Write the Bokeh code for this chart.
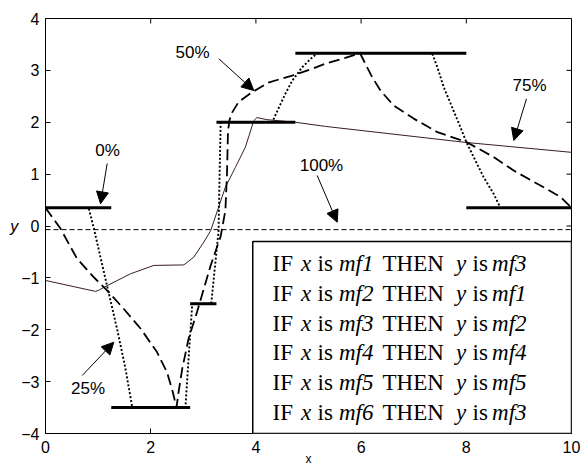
import math
from bokeh.plotting import figure
from bokeh.models import (Range1d, FixedTicker, Arrow, NormalHead,
                          Label, BoxAnnotation, ColumnDataSource)
from bokeh.core.properties import value
from bokeh.embed import file_html
from bokeh.resources import INLINE

# ---------------- data ----------------
x_ticks = [0, 2, 4, 6, 8, 10]
y_ticks = [-4, -3, -2, -1, 0, 1, 2, 3, 4]

# 0% : consequent levels over each antecedent region (zero-order)
seg_x0 = [0.0, 1.25, 2.75, 3.25, 4.75, 8.0]
seg_x1 = [1.25, 2.75, 3.25, 4.75, 8.0, 10.0]
seg_y = [0.35, -3.5, -1.5, 2.0, 3.33, 0.35]

# 25% (dotted)
p25_x = [0, 0.82, 0.92, 1.17, 1.36, 1.52, 1.65, 2.66, 2.72, 2.79, 3.15, 3.22,
         3.29, 3.31, 3.33, 4.31, 4.44, 4.56, 4.69, 4.88, 5.07, 5.17, 7.35,
         7.45, 7.57, 7.73, 7.89, 8.0, 8.14, 8.33, 8.52, 8.65, 10]
p25_y = [0.35, 0.35, -0.05, -1.15, -1.98, -2.75, -3.5, -3.5, -2.55, -1.5, -1.5,
         -0.8, -0.1, 1.0, 2.0, 2.0, 2.29, 2.55, 2.80, 3.06, 3.25, 3.33, 3.33,
         3.06, 2.68, 2.29, 1.90, 1.62, 1.33, 0.94, 0.62, 0.35, 0.35]

# 50% (dashed)
p50_x = [0, 0.285, 0.60, 0.92, 1.17, 1.49, 1.81, 2.12, 2.31, 2.42, 2.49, 2.53,
         2.60, 2.72, 2.88, 3.01, 3.14, 3.33, 3.42, 3.45, 3.47, 3.50, 3.55, 3.67,
         3.93, 4.25, 4.69, 5.07, 5.32, 5.70, 5.98, 6.05, 6.21, 6.37, 6.62, 7.0,
         7.45, 8.0, 8.52, 8.90, 9.41, 9.79, 10]
p50_y = [0.35, -0.05, -0.63, -0.99, -1.24, -1.60, -1.98, -2.43, -2.82, -3.2,
         -3.5, -3.2, -2.75, -2.17, -1.66, -1.21, -0.76, -0.2, 0.3, 1.0, 1.84,
         2.05, 2.19, 2.39, 2.58, 2.77, 2.90, 3.03, 3.13, 3.24, 3.33, 3.19, 2.87,
         2.61, 2.32, 2.07, 1.81, 1.62, 1.33, 1.07, 0.78, 0.56, 0.35]

# 75% (thin solid)
p75_x = [0, 0.95, 1.01, 1.17, 1.62, 2.06, 2.63, 2.82, 3.01, 3.14, 3.42, 3.61,
         3.80, 3.96, 4.02, 4.21, 4.75, 5.32, 8.0, 10]
p75_y = [-1.05, -1.26, -1.24, -1.15, -0.92, -0.76, -0.75, -0.60, -0.31, -0.09,
         0.75, 1.13, 1.52, 2.03, 2.09, 2.05, 2.0, 1.92, 1.61, 1.42]

# 100% (thin dashed)
p100_x = [0, 10]
p100_y = [-0.07, -0.07]

rule_in = ["mf1", "mf2", "mf3", "mf4", "mf5", "mf6"]
rule_out = ["mf3", "mf1", "mf2", "mf4", "mf5", "mf3"]

pct_labels = ["0%", "25%", "50%", "75%", "100%"]

SANS = "'Liberation Sans', Arial, Helvetica, sans-serif"
SERIF = "'Liberation Serif', 'Times New Roman', Times, serif"

# ---------------- figure ----------------
p = figure(width=585, height=468, x_range=Range1d(0, 10), y_range=Range1d(-4, 4),
           output_backend="svg", toolbar_location=None,
           min_border_left=45, min_border_right=14, min_border_top=18,
           min_border_bottom=35)
p.xgrid.visible = False
p.ygrid.visible = False
p.outline_line_color = "black"
p.outline_line_width = 1
p.background_fill_color = "white"
p.border_fill_color = "white"

for ax, ticks in ((p.xaxis[0], x_ticks), (p.yaxis[0], y_ticks)):
    ax.ticker = FixedTicker(ticks=ticks)
    ax.major_tick_in = 5
    ax.major_tick_out = 0
    ax.minor_tick_line_color = None
    ax.axis_line_color = "black"
    ax.major_tick_line_color = "black"
    ax.major_label_text_font = SANS
    ax.major_label_text_font_size = "16px"
    ax.major_label_text_color = "black"
    ax.axis_label_text_font = SANS
    ax.axis_label_text_color = "black"
p.xaxis.major_label_standoff = 7
p.yaxis.major_label_standoff = 6

p.xaxis.axis_label = "x"
p.xaxis.axis_label_text_font_size = "12px"
p.xaxis.axis_label_text_font_style = "normal"
p.xaxis.axis_label_standoff = -4

p.yaxis.axis_label = "y"
p.yaxis.axis_label_orientation = "horizontal"
p.yaxis.axis_label_text_font_size = "16px"
p.yaxis.axis_label_text_font_style = "italic"
p.yaxis.axis_label_standoff = 0

# inward ticks on the top and right edges of the box
p.ray(x=x_ticks, y=[4] * len(x_ticks), length=5, length_units="screen",
      angle=-math.pi / 2, line_color="black", line_width=1)
p.ray(x=[10] * len(y_ticks), y=y_ticks, length=5, length_units="screen",
      angle=math.pi, line_color="black", line_width=1)

# ---------------- curves ----------------
p.line(p100_x, p100_y, line_color="black", line_width=1, line_dash="5 3")
p.line(p75_x, p75_y, line_color="#3a1e1e", line_width=1)
p.line(p50_x, p50_y, line_color="black", line_width=1.8, line_dash="11 5")
p.line(p25_x, p25_y, line_color="black", line_width=1.9, line_dash="2 2")
p.segment(x0=seg_x0, y0=seg_y, x1=seg_x1, y1=seg_y, line_color="black",
          line_width=3)

# ---------------- arrows + percentage labels ----------------
label_pos = [(1.179, 1.455), (0.808, -3.133), (2.795, 3.345), (9.202, 2.708),
             (5.247, 1.166)]
arrow_pos = [(1.173, 1.205, 1.046, 0.428), (0.698, -2.882, 1.298, -2.240),
             (3.295, 3.223, 3.960, 2.612), (9.144, 2.452, 8.903, 1.648),
             (5.165, 0.973, 5.546, 0.073)]
for txt, (lx, ly), (xs, ys, xe, ye) in zip(pct_labels, label_pos, arrow_pos):
    p.add_layout(Label(x=lx, y=ly, text=txt, text_font=SANS,
                       text_font_size="17px", text_align="center",
                       text_baseline="middle", text_color="black"))
    p.add_layout(Arrow(x_start=xs, y_start=ys, x_end=xe, y_end=ye,
                       line_color="black", line_width=1,
                       end=NormalHead(size=12, fill_color="black",
                                      line_color="black", line_width=1)))

# ---------------- rule box ----------------
p.add_layout(BoxAnnotation(left=3.94, right=10, top=-0.30, bottom=-4,
                           fill_color="white", fill_alpha=1.0,
                           line_color="black", line_alpha=1.0, line_width=1.5,
                           level="annotation"))

seg_dx = [4.316, 4.857, 5.171, 5.580, 6.407, 7.804, 8.118, 8.489]
norm = dict(x=[], y=[], t=[])
ital = dict(x=[], y=[], t=[])
for i, (a, b) in enumerate(zip(rule_in, rule_out)):
    yy = -0.73 - 0.572 * i
    parts = [("IF", False), ("x", True), ("is", False), (a, True),
             ("THEN", False), ("y", True), ("is", False), (b, True)]
    for (t, it), xx in zip(parts, seg_dx):
        d = ital if it else norm
        d["x"].append(xx)
        d["y"].append(yy)
        d["t"].append(t)

for d, style in ((norm, "normal"), (ital, "italic")):
    r = p.text(x="x", y="y", text="t", source=ColumnDataSource(d),
               text_font=value(SERIF), text_font_size=value("23px"),
               text_font_style=style, text_align="left",
               text_baseline="alphabetic", text_color="black")
    r.level = "overlay"

open("out.html", "w").write(file_html(p, INLINE))
